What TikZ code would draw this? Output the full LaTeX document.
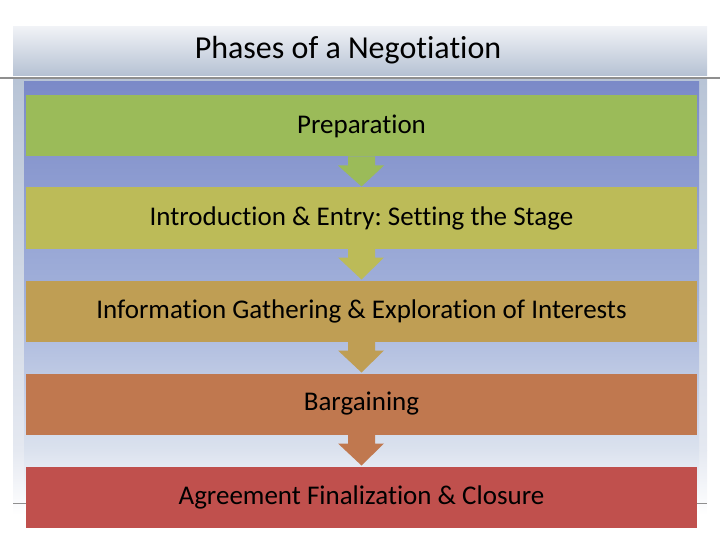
\documentclass[tikz,border=0pt]{standalone}
\usepackage{fontspec}
\setmainfont[Ligatures={NoCommon}]{Carlito}
\usetikzlibrary{calc}
\frenchspacing
\definecolor{cA}{HTML}{9BBB59}
\definecolor{cB}{HTML}{BCBB58}
\definecolor{cC}{HTML}{BF9E54}
\definecolor{cD}{HTML}{C0784F}
\definecolor{cE}{HTML}{C0504D}
\definecolor{bannerTop}{HTML}{F0F2F6}
\definecolor{bannerBot}{HTML}{B5C1D3}
\definecolor{sideTop}{HTML}{B8C4D6}
\definecolor{sideMid}{HTML}{E5E9F1}
\definecolor{inTop}{HTML}{7B8AC8}
\definecolor{inMid}{HTML}{A2B1DA}
\definecolor{inLow}{HTML}{DBE2EE}
\definecolor{rule}{HTML}{8F8F8F}
\tikzset{
  phase/.style={minimum width=671pt, minimum height=61pt, inner sep=0pt, outer sep=0pt, font=\fontsize{27}{30}\selectfont, text=black},
}
\newcommand{\phasearrow}[3]{%
  \fill[#3] ($(#1.south)+(-13.5,0)$) -- ($(#1.south)+(13.5,0)$) -- ($(#1.south)+(13.5,9)$) -- ($(#1.south)+(22.5,9)$) -- ($(#2.north)+(0,-1)$) -- ($(#1.south)+(-23.5,9)$) -- ($(#1.south)+(-13.5,9)$) -- cycle;}
\begin{document}
\begin{tikzpicture}[x=1pt,y=-1pt]
\useasboundingbox (0,0) rectangle (720,540);
% outer side panel
\shade[top color=sideTop, bottom color=sideMid] (13,80) rectangle (707,450);
\shade[top color=sideMid, bottom color=white] (13,450) rectangle (707,515);
% inner panel
\shade[top color=inTop, bottom color=inMid] (24,82) rectangle (699,300);
\shade[top color=inMid, bottom color=inLow] (24,300) rectangle (699,450);
\shade[top color=inLow, bottom color=white] (24,450) rectangle (699,510);
% bottom rule
\draw[rule, line width=1pt] (13,503) -- (707,503);
% title banner
\shade[top color=bannerTop, bottom color=bannerBot] (13,27) rectangle (707,76);
\draw[rule, line width=1.5pt] (0,78) -- (720,78);
\node[font=\fontsize{32}{36}\selectfont, text=black] (title) at (348,50) {Phases of a Negotiation};
% phases
\node[phase, fill=cA] (p1) at (361.5,126) {Preparation};
\node[phase, fill=cB] (p2) at (361.5,218) {Introduction \& Entry: Setting the Stage};
\node[phase, fill=cC] (p3) at (361.5,311) {Information Gathering \& Exploration of Interests};
\node[phase, fill=cD] (p4) at (361.5,404) {Bargaining};
\node[phase, fill=cE] (p5) at (361.5,497) {Agreement Finalization \& Closure};
\phasearrow{p1}{p2}{cA}
\phasearrow{p2}{p3}{cB}
\phasearrow{p3}{p4}{cC}
\phasearrow{p4}{p5}{cD}
\end{tikzpicture}
\end{document}
